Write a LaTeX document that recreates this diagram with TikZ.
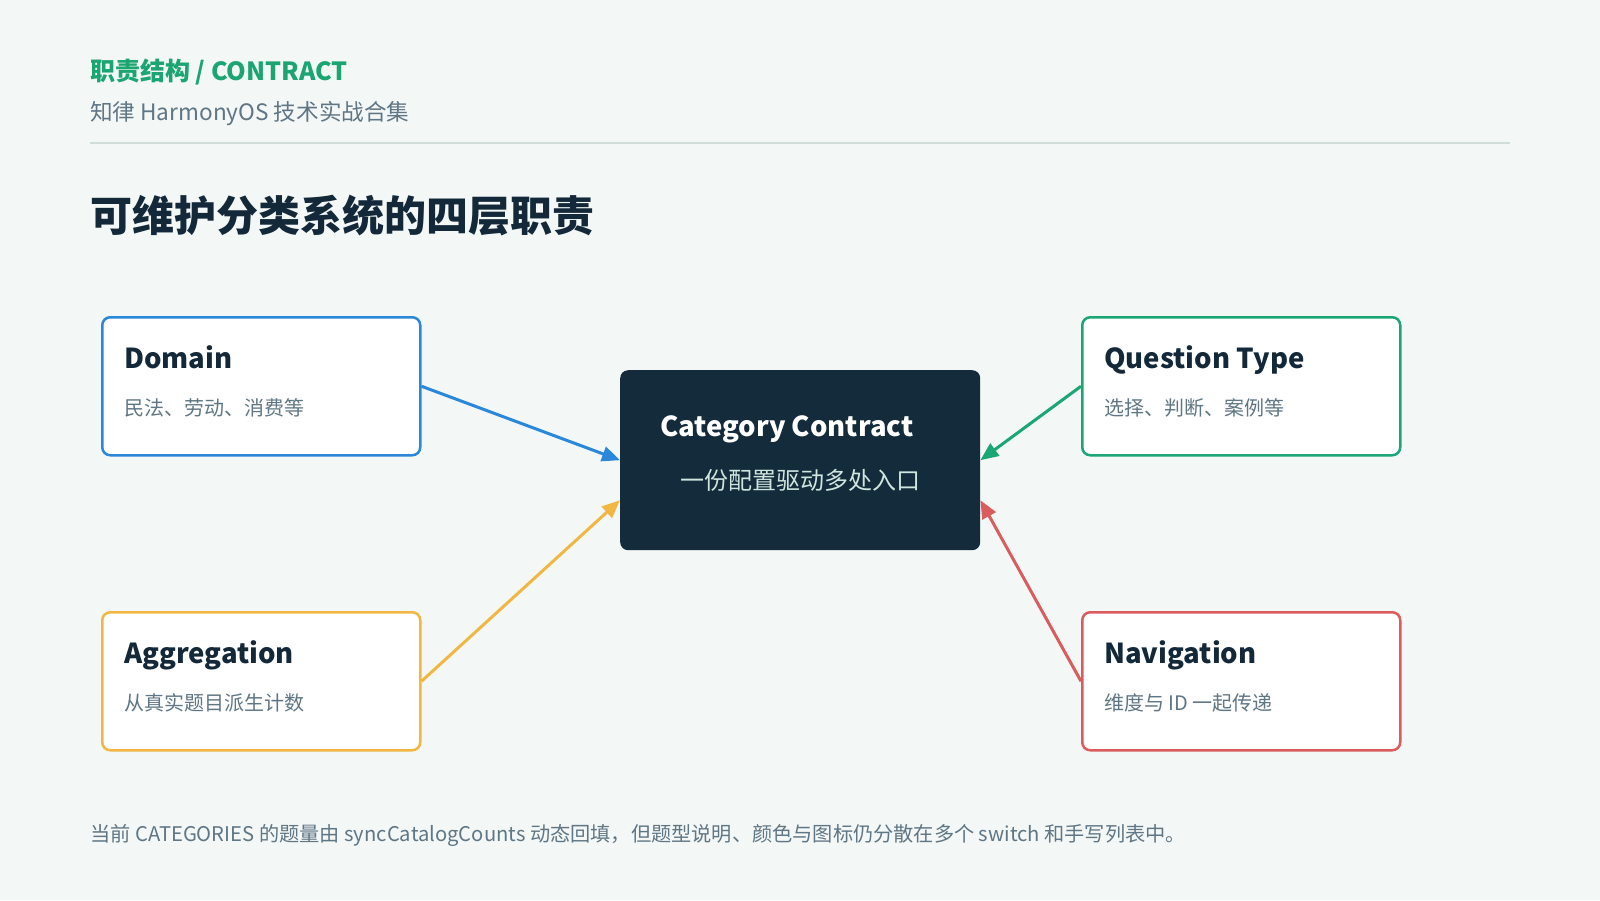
\documentclass[tikz,border=0pt]{standalone}
\usepackage{fontspec}
\setmainfont{Noto Sans CJK SC}
\usetikzlibrary{arrows.meta}
\definecolor{bgc}{HTML}{F3F7F6}
\definecolor{hgreen}{HTML}{1AA572}
\definecolor{subgray}{HTML}{5F7684}
\definecolor{rulec}{HTML}{CFDDD8}
\definecolor{darkc}{HTML}{13293A}
\definecolor{cblue}{HTML}{2B87D9}
\definecolor{cgreen}{HTML}{1BA675}
\definecolor{cyellow}{HTML}{F2B742}
\definecolor{cred}{HTML}{DA5C5C}
\definecolor{ctrfill}{HTML}{132B3B}
\definecolor{ctrsub}{HTML}{CFE5DE}
\tikzset{
  card/.style={draw=#1, line width=2.5pt, fill=white, rounded corners=8pt,
    minimum width=318pt, minimum height=138pt, anchor=north west, inner sep=0pt},
  cardtitle/.style={anchor=base west, inner sep=0pt, text=darkc,
    font=\fontsize{27.5}{33}\selectfont\bfseries},
  cardsub/.style={anchor=west, inner sep=0pt, text=subgray,
    font=\fontsize{20}{24}\selectfont},
  link/.style={draw=#1, line width=3pt, -{Triangle[length=18pt,width=15pt]}},
  plain/.style={anchor=west, inner sep=0pt}
}
\begin{document}
\begin{tikzpicture}[x=1pt,y=-1pt]
\fill[bgc] (0,0) rectangle (1600,900);
\useasboundingbox (0,0) rectangle (1600,900);

% header
\node[plain, text=hgreen, font=\fontsize{25}{30}\selectfont\bfseries] (hdr) at (90,72) {职责结构 / CONTRACT};
\node[plain, text=subgray, font=\fontsize{22.6}{28}\selectfont] (sub) at (90,114) {知律 HarmonyOS 技术实战合集};
\coordinate (ruleL) at (90,143);
\coordinate (ruleR) at (1510,143);
\draw[rulec, line width=2pt] (ruleL) -- (ruleR);
\node[plain, text=darkc, font=\fontsize{42}{50}\selectfont\bfseries] (title) at (90,216) {可维护分类系统的四层职责};

% cards
\node[card=cblue] (dom) at (101,316) {};
\node[cardtitle] (domT) at ([xshift=23pt,yshift=-52pt]dom.north west) {Domain};
\node[cardsub] (domS) at ([xshift=23pt,yshift=-92pt]dom.north west) {民法、劳动、消费等};

\node[card=cgreen] (qt) at (1081,316) {};
\node[cardtitle] (qtT) at ([xshift=23pt,yshift=-52pt]qt.north west) {Question Type};
\node[cardsub] (qtS) at ([xshift=23pt,yshift=-92pt]qt.north west) {选择、判断、案例等};

\node[card=cyellow] (agg) at (101,611) {};
\node[cardtitle] (aggT) at ([xshift=23pt,yshift=-52pt]agg.north west) {Aggregation};
\node[cardsub] (aggS) at ([xshift=23pt,yshift=-92pt]agg.north west) {从真实题目派生计数};

\node[card=cred] (nav) at (1081,611) {};
\node[cardtitle] (navT) at ([xshift=23pt,yshift=-52pt]nav.north west) {Navigation};
\node[cardsub] (navS) at ([xshift=23pt,yshift=-92pt]nav.north west) {维度与 ID 一起传递};

% center
\node[fill=ctrfill, rounded corners=8pt, minimum width=360pt, minimum height=180pt,
      anchor=north west, inner sep=0pt] (ctr) at (620,370) {};
\node[plain, text=white, font=\fontsize{27.5}{33}\selectfont\bfseries] (ctrT) at (660,429) {Category Contract};
\node[plain, text=ctrsub, font=\fontsize{24}{28}\selectfont] (ctrS) at (680,480) {一份配置驱动多处入口};

% connectors
\draw[link=cblue] (dom.east) -- (ctr.west);
\draw[link=cgreen] (qt.west) -- (ctr.east);
\draw[link=cyellow] (agg.east) -- ([yshift=-40pt]ctr.west);
\draw[link=cred] (nav.west) -- ([yshift=-40pt]ctr.east);

% footer
\node[plain, text=subgray, font=\fontsize{20.2}{25}\selectfont] (foot) at (90,835) {当前 CATEGORIES 的题量由 syncCatalogCounts 动态回填，但题型说明、颜色与图标仍分散在多个 switch 和手写列表中。};
\end{tikzpicture}
\end{document}
